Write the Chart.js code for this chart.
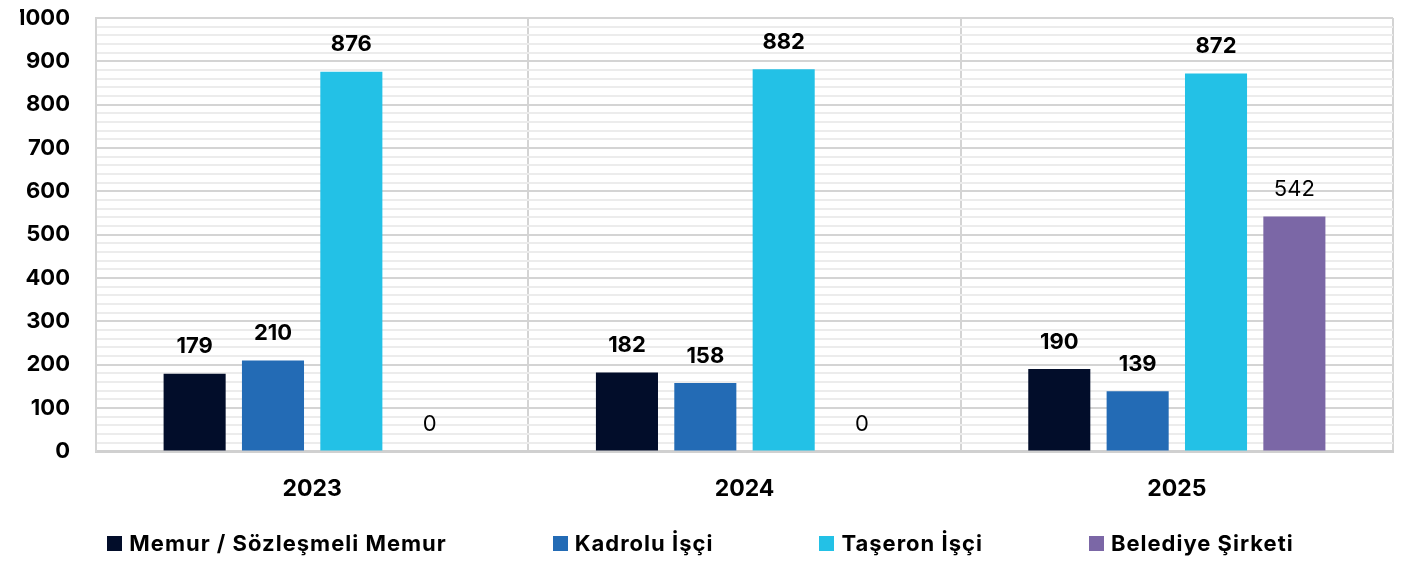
<!DOCTYPE html>
<html>
<head>
<meta charset="utf-8">
<script src="https://cdn.jsdelivr.net/npm/chart.js@4.4.1/dist/chart.umd.min.js"></script>
<style>
html,body{margin:0;padding:0;background:#fff;}
#wrap{width:1401px;height:563px;position:relative;}
#legend{position:absolute;left:0;top:528px;width:1401px;height:30px;display:flex;justify-content:center;align-items:center;gap:106px;font-family:Inter,"Open Sans",sans-serif;font-weight:bold;font-size:22px;letter-spacing:1px;color:#000;}
#legend .it{display:flex;align-items:center;white-space:nowrap;}
#legend .sw{width:15px;height:15px;margin-right:7px;display:inline-block;}
</style>
</head>
<body>
<div id="wrap"><canvas id="c"></canvas><div id="legend"></div></div>
<script>
const categories = ['2023', '2024', '2025'];
const memur = [179, 182, 190];
const kadrolu = [210, 158, 139];
const taseron = [876, 882, 872];
const belediye = [0, 0, 542];
const seriesNames = ['Memur / Sözleşmeli Memur', 'Kadrolu İşçi', 'Taşeron İşçi', 'Belediye Şirketi'];
const seriesColors = ['#020d2a', '#236bb5', '#23c1e6', '#7b67a6'];
const labelWeights = ['bold', 'bold', 'bold', 'normal'];

const FONT = 'Inter, "Open Sans", sans-serif';

const dataLabels = {
  id: 'dataLabels',
  afterDatasetsDraw(chart) {
    const ctx = chart.ctx;
    chart.data.datasets.forEach((ds, i) => {
      const meta = chart.getDatasetMeta(i);
      meta.data.forEach((el, j) => {
        ctx.save();
        ctx.font = labelWeights[i] + ' 22px ' + FONT;
        ctx.fillStyle = '#000';
        ctx.textAlign = 'center';
        ctx.textBaseline = 'middle';
        ctx.fillText(String(ds.data[j]), el.x, el.y - 27);
        ctx.restore();
      });
    });
  }
};

const chart = new Chart(document.getElementById('c'), {
  type: 'bar',
  data: {
    labels: categories,
    datasets: [memur, kadrolu, taseron, belediye].map((d, i) => ({
      label: seriesNames[i],
      data: d,
      backgroundColor: seriesColors[i],
      borderWidth: 0,
      categoryPercentage: 0.725,
      barPercentage: 0.792
    }))
  },
  options: {
    responsive: true,
    maintainAspectRatio: false,
    animation: false,
    layout: { padding: { top: 18, right: 8, left: 20, bottom: 36 } },
    plugins: {
      legend: { display: false },
      tooltip: { enabled: false }
    },
    scales: {
      x: {
        grid: {
          color: '#d4d4d4',
          lineWidth: 2,
          offset: true,
          drawTicks: false
        },
        border: { color: '#d0d0d0', width: 3 },
        ticks: {
          font: { family: FONT, size: 23, weight: 'bold' },
          color: '#000',
          padding: 24
        },
        afterFit: (s) => { s.paddingLeft = 0; s.paddingRight = 0; }
      },
      y: {
        min: 0,
        max: 1000,
        grid: {
          color: (c) => (c.tick && c.tick.value % 100 === 0) ? '#d4d4d4' : '#ececec',
          lineWidth: 2,
          drawTicks: false
        },
        border: { color: '#d4d4d4', width: 2 },
        ticks: {
          stepSize: 20,
          autoSkip: false,
          font: { family: FONT, size: 22, weight: 'bold' },
          color: '#000',
          padding: 26,
          callback: (v) => (v % 100 === 0 ? String(v) : '')
        },
        afterFit: (s) => { s.paddingTop = 0; s.paddingBottom = 0; s.width = 76; }
      }
    }
  },
  plugins: [dataLabels]
});

const lg = document.getElementById('legend');
seriesNames.forEach((n, i) => {
  const it = document.createElement('div');
  it.className = 'it';
  const sw = document.createElement('span');
  sw.className = 'sw';
  sw.style.background = seriesColors[i];
  it.appendChild(sw);
  it.appendChild(document.createTextNode(n));
  lg.appendChild(it);
});
</script>
</body>
</html>
